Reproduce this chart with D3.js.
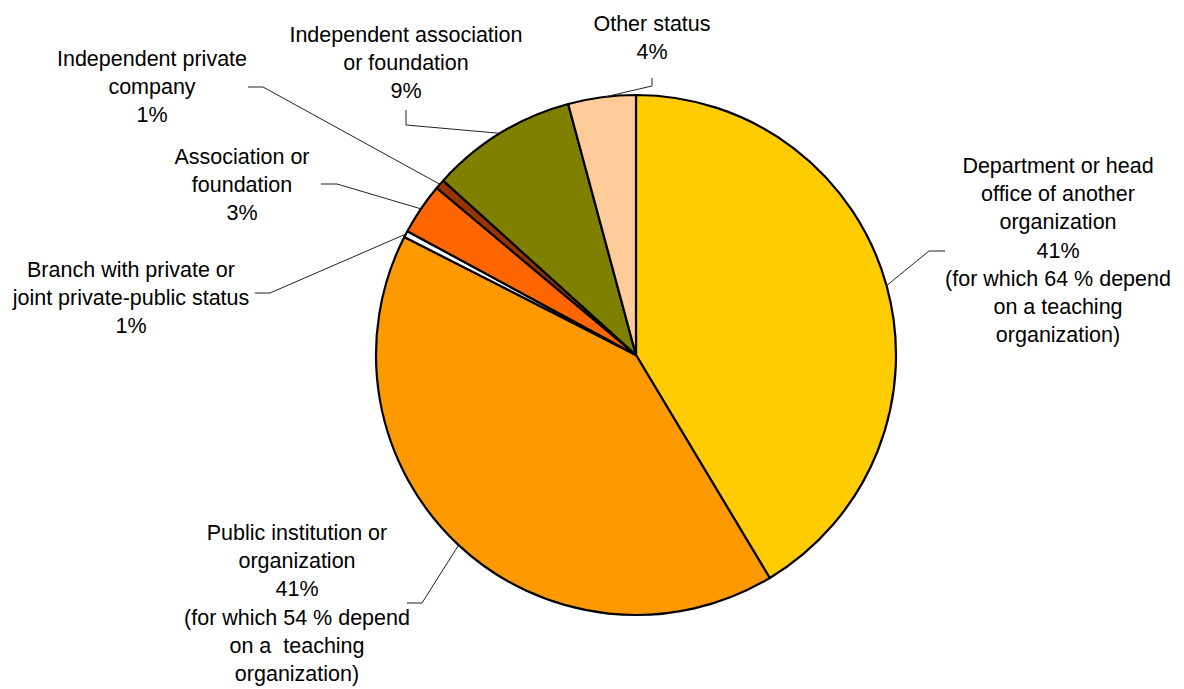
<!DOCTYPE html>
<html>
<head>
<meta charset="utf-8">
<script src="https://cdn.jsdelivr.net/npm/d3@7"></script>
<style>
  body { margin: 0; background: #fff; }
  svg text { font-family: "Liberation Sans", Arial, sans-serif; font-size: 21.5px; fill: #000; white-space: pre; }
</style>
</head>
<body>
<div id="chart"></div>
<script>
// data
const categories = [
  'Department or head office of another organization',
  'Public institution or organization',
  'Branch with private or joint private-public status',
  'Association or foundation',
  'Independent private company',
  'Independent association or foundation',
  'Other status'
]
const shares = [41.4, 41.1, 0.4, 3.2, 0.6, 9.1, 4.2]
const pctLabels = ['41%', '41%', '1%', '3%', '1%', '9%', '4%']
const labelLines = [
  ['Department or head', 'office of another', 'organization', pctLabels[0], '(for which 64 % depend', 'on a teaching', 'organization)'],
  ['Public institution or', 'organization', pctLabels[1], '(for which 54 % depend', 'on a  teaching', 'organization)'],
  ['Branch with private or', 'joint private-public status', pctLabels[2]],
  ['Association or', 'foundation', pctLabels[3]],
  ['Independent private', 'company', pctLabels[4]],
  ['Independent association', 'or foundation', pctLabels[5]],
  ['Other status', pctLabels[6]]
]
const colors = ['#FFCC00', '#FF9900', '#FFFFFF', '#FF6600', '#993300', '#808000', '#FFCC99']

// label placement: text centre x, first baseline y, leader elbow + end
const labelPos = [
  {x: 1058, y: 173, elbow: [929, 251], end: [945, 251]},
  {x: 297, y: 540, elbow: [422, 603], end: [407, 603]},
  {x: 131, y: 277, elbow: [270, 293], end: [255, 293]},
  {x: 242, y: 164, elbow: [337, 184], end: [321, 184]},
  {x: 152, y: 66, elbow: [263, 87], end: [248, 87]},
  {x: 406, y: 42, elbow: [406, 125], end: [406, 110]},
  {x: 652, y: 31, elbow: [652, 86], end: [652, 78]}
]
// which point on the slice edge the leader touches (fraction along slice)
const anchorFrac = [0.5, 0.5, 0.5, 0.5, 0.5, 0.5, 0.55]

const W = 1184, H = 689
const cx = 636, cy = 355, R = 260
const lineH = 28.2

const svg = d3.select('#chart').append('svg')
  .attr('width', W).attr('height', H)

const data = categories.map((c, i) => ({name: c, value: shares[i], i: i}))
const pie = d3.pie().sort(null).value(d => d.value)
const arcs = pie(data)
const arc = d3.arc().innerRadius(0).outerRadius(R)

const g = svg.append('g').attr('transform', `translate(${cx},${cy})`)
g.selectAll('path')
  .data(arcs)
  .enter()
  .append('path')
  .attr('d', arc)
  .attr('fill', d => colors[d.data.i])
  .attr('stroke', '#000')
  .attr('stroke-width', 2.2)
  .attr('stroke-linejoin', 'round')

// leader lines
arcs.forEach(function(a, i){
  let ang = a.startAngle + (a.endAngle - a.startAngle) * anchorFrac[i]
  let px = cx + Math.sin(ang) * R
  let py = cy - Math.cos(ang) * R
  let p = labelPos[i]
  svg.append('polyline')
    .attr('points', [[px, py], p.elbow, p.end].map(q => q.join(',')).join(' '))
    .attr('fill', 'none')
    .attr('stroke', '#222')
    .attr('stroke-width', 1)
})

// labels
labelLines.forEach(function(lines, i){
  let p = labelPos[i]
  let t = svg.append('text').attr('text-anchor', 'middle')
  lines.forEach(function(l, k){
    t.append('tspan').attr('x', p.x).attr('y', p.y + k * lineH).text(l)
  })
})
</script>
</body>
</html>
